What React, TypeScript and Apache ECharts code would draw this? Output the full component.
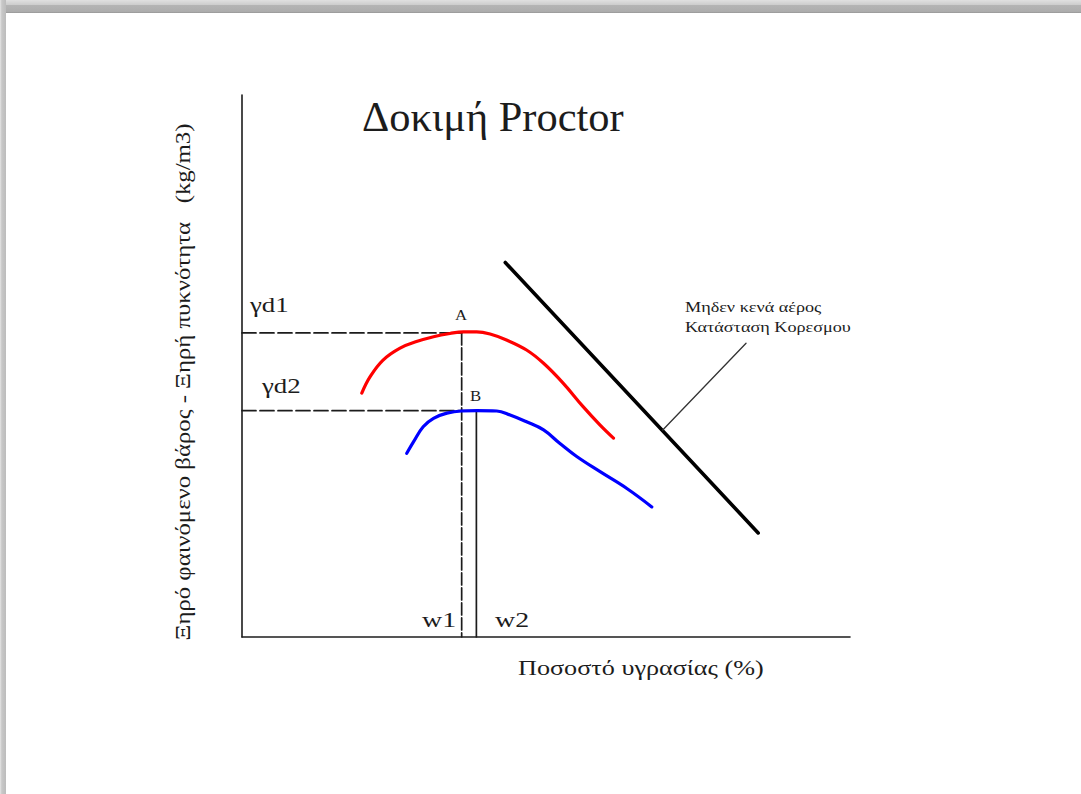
import React, { useEffect, useRef } from "react";
import * as echarts from "echarts";

// Abstract units: moisture (x, 0..100) vs dry density (y, 0..100)
const redCurve: [number, number][] = [
  [19.7, 45.0], [21.05, 48.0], [23.2, 51.1], [26.0, 53.3], [28.7, 54.5],
  [31.5, 55.4], [34.2, 56.0], [36.4, 56.3], [38.6, 56.3], [40.8, 55.9],
  [43.5, 54.8], [46.8, 52.95], [49.6, 50.5], [52.85, 46.8], [56.1, 42.5],
  [58.9, 39.1], [61.1, 36.7],
];
const blueCurve: [number, number][] = [
  [27.1, 33.9], [28.2, 36.0], [29.8, 38.8], [31.5, 40.35], [33.7, 41.3],
  [36.1, 41.7], [38.6, 41.75], [41.9, 41.7], [44.1, 40.96], [46.8, 39.7],
  [49.6, 38.2], [52.3, 35.7], [55.05, 33.3], [58.9, 30.5], [63.3, 27.4],
  [67.4, 24.0],
];
const saturationLine: [number, number][] = [[43.3, 69.1], [84.9, 19.2]];
const leaderLine: [number, number][] = [[69.2, 38.2], [82.9, 54.2]];
const gd1 = 56.1;
const gd2 = 41.75;
const w1 = 36.13;
const w2 = 38.55;

const SERIF = "Liberation Serif";
const INK = "#1c1c1c";

export default function App() {
  const ref = useRef<HTMLDivElement>(null);
  useEffect(() => {
    if (!ref.current) return;
    const chart = echarts.init(ref.current, undefined, { renderer: "svg" });
    const lineSeries = (data: [number, number][], color: string, width: number, dash: any = "solid", smooth: any = false, z = 2) => ({
      type: "line",
      data,
      symbol: "none",
      smooth,
      silent: true,
      z,
      lineStyle: { color, width, type: dash, cap: "round" },
    });
    const txt = (text: string, x: number, y: number, size: number, sx = 1) => ({
      type: "text",
      x,
      y,
      scaleX: sx,
      silent: true,
      style: {
        text,
        fill: INK,
        fontFamily: SERIF,
        fontSize: size,
        textAlign: "left",
        textVerticalAlign: "middle",
      },
    });
    chart.setOption({
      animation: false,
      backgroundColor: "#ffffff",
      grid: { left: 242, top: 95, width: 608, height: 542, containLabel: false },
      xAxis: {
        type: "value", min: 0, max: 100,
        axisLine: { show: true, onZero: false, lineStyle: { color: INK, width: 1.6 } },
        axisTick: { show: false }, axisLabel: { show: false }, splitLine: { show: false },
      },
      yAxis: {
        type: "value", min: 0, max: 100,
        axisLine: { show: true, onZero: false, lineStyle: { color: INK, width: 1.6 } },
        axisTick: { show: false }, axisLabel: { show: false }, splitLine: { show: false },
      },
      series: [
        lineSeries([[0, gd1], [w1, gd1]], INK, 1.7, [14, 4]),
        lineSeries([[0, gd2], [w1, gd2]], INK, 1.7, [14, 4]),
        lineSeries([[w1, gd1], [w1, 0]], INK, 1.7, [12, 3]),
        lineSeries([[w1, gd2], [w2, gd2], [w2, 0]], INK, 1.7),
        lineSeries(redCurve, "#ff0000", 3.2, "solid", 0.4, 3),
        lineSeries(blueCurve, "#0000ff", 3.2, "solid", 0.4, 3),
        lineSeries(saturationLine, "#000000", 3.6, "solid", false, 3),
        lineSeries(leaderLine, "#333333", 1.3, "solid", false, 3),
      ],
      graphic: [
        {
          type: "rect", shape: { x: 0, y: 0, width: 1081, height: 13 }, silent: true, z: 10,
          style: {
            fill: new echarts.graphic.LinearGradient(0, 0, 0, 1, [
              { offset: 0, color: "#e0e0e0" },
              { offset: 0.35, color: "#cecece" },
              { offset: 0.42, color: "#b4b4b4" },
              { offset: 0.88, color: "#adadad" },
              { offset: 1, color: "#969696" },
            ]),
          },
        },
        {
          type: "rect", shape: { x: 0, y: 0, width: 6, height: 794 }, silent: true, z: 10,
          style: {
            fill: new echarts.graphic.LinearGradient(0, 0, 1, 0, [
              { offset: 0, color: "#e6e6e6" },
              { offset: 0.3, color: "#c8c8c8" },
              { offset: 1, color: "#bcbcbc" },
            ]),
          },
        },
        txt("Δοκιμή Proctor", 362, 117, 42, 1.01),
        txt("γd1", 250, 305, 21, 1.28),
        txt("γd2", 262, 386, 21, 1.28),
        txt("A", 455, 315, 14, 1.2),
        txt("B", 470, 396, 14, 1.2),
        txt("w1", 422, 620, 21, 1.33),
        txt("w2", 495, 620, 21, 1.33),
        txt("Ποσοστό υγρασίας (%)", 518, 667, 22, 1.19),
        txt("Μηδεν κενά αέρος", 685, 308, 14, 1.3),
        txt("Κατάσταση Κορεσμου", 685, 328, 14, 1.3),
        {
          type: "text", x: 183, y: 382, rotation: Math.PI / 2, scaleX: 1.18, silent: true,
          style: {
            text: "Ξηρό φαινόμενο βάρος - Ξηρή πυκνότητα   (kg/m3)",
            fill: INK, fontFamily: SERIF, fontSize: 21, textAlign: "center", textVerticalAlign: "middle",
          },
        },
      ],
    });
    return () => chart.dispose();
  }, []);
  return (
    <div
      ref={ref}
      style={{ position: "fixed", left: 0, top: 0, width: 1081, height: 794, background: "#fff" }}
    />
  );
}
